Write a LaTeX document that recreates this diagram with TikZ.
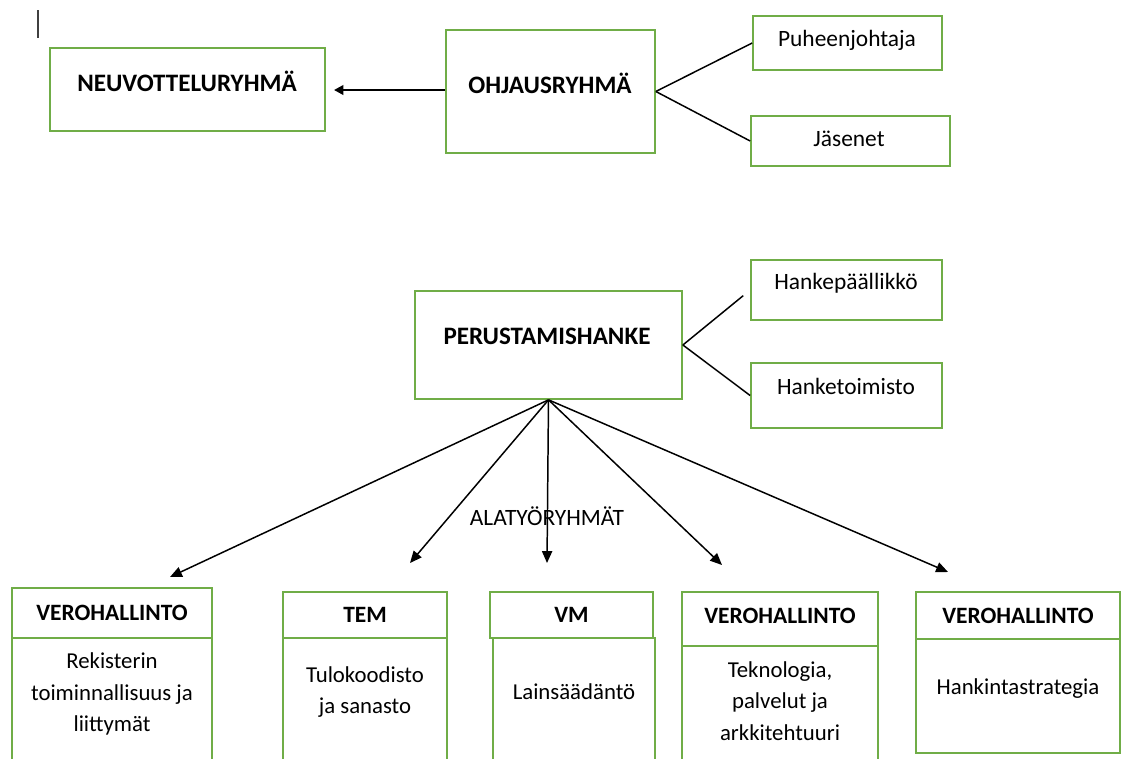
\documentclass[tikz,border=0pt]{standalone}
\usepackage{fontspec}
\setmainfont{Carlito}
\usetikzlibrary{arrows.meta}
\definecolor{boxgreen}{HTML}{70AD47}
\def\px{0.47pt}

\begin{document}
\begin{tikzpicture}[x=\px, y=-\px,
	every node/.style = {font=\fontsize{11}{14.8}\selectfont, inner sep=0pt, align=center},
	box/.style = {shape=rectangle, draw=boxgreen, line width=0.8pt},
	head/.style = {box, font=\fontsize{11}{14.8}\selectfont\bfseries},
	bold/.style = {font=\fontsize{11.8}{14.8}\selectfont\bfseries},
	body/.style = {font=\fontsize{10.7}{14.8}\selectfont},
	link/.style = {line width=0.7pt},
	arr/.style = {line width=0.7pt, -{Triangle[length=5.6pt, width=4.8pt]}},
	bigarr/.style = {line width=1.3pt, -{Triangle[length=4.4pt, width=4.4pt]}}]
	\useasboundingbox (0,0) rectangle (1122,758);
	\clip (0,0) rectangle (1122,758);
	\draw[line width=0.6pt, black!75] (38,10) -- (38,38);

	\node[box, minimum width=275*\px, minimum height=83*\px] (neuv) at (187.5,89.5) {};
	\node[bold] (neuvText) at (187,81) {NEUVOTTELURYHMÄ};
	\node[box, minimum width=209*\px, minimum height=123*\px] (ohj) at (550.5,91.5) {};
	\node[bold] (ohjText) at (550,83) {OHJAUSRYHMÄ};
	\node[box, minimum width=189*\px, minimum height=54*\px] (puh) at (847.5,43) {};
	\node (puhText) at (847,40) {Puheenjohtaja};
	\node[box, minimum width=199*\px, minimum height=50*\px] (jas) at (850.5,141) {};
	\node (jasText) at (849,139) {Jäsenet};

	\node[box, minimum width=267*\px, minimum height=108*\px] (per) at (548.5,345) {};
	\node[bold] (perText) at (547,336) {PERUSTAMISHANKE};
	\node[box, minimum width=191*\px, minimum height=60*\px] (hankep) at (846.5,290) {};
	\node (hankepText) at (846,283) {Hankepäällikkö};
	\node[box, minimum width=191*\px, minimum height=65*\px] (hanket) at (846.5,395.5) {};
	\node (hanketText) at (846,386) {Hanketoimisto};

	\draw[bigarr, shorten >=3.8pt] ([yshift=0.7pt]ohj.west) -- ([yshift=0.7pt]ohj.west -| neuv.east);
	\draw[link] (ohj.east) -- (puh.west);
	\draw[link] (ohj.east) -- (jas.west);
	\draw[link, shorten >=4.2pt] (per.east) -- (hankep.west);
	\draw[link] (per.east) -- (hanket.west);

	\node (alaText) at (547,516) {ALATYÖRYHMÄT};

	\node[box, minimum width=200*\px, minimum height=134*\px] (rekBody) at (112,705) {};
	\node[head, minimum width=200*\px, minimum height=50*\px] (rekHead) at (112,613) {VEROHALLINTO};
	\node[body] (rekText) at (112,694) {Rekisterin\\toiminnallisuus ja\\liittymät};
	\node[box, minimum width=164*\px, minimum height=134*\px] (temBody) at (365,705) {};
	\node[head, minimum width=164*\px, minimum height=46*\px] (temHead) at (365,615) {TEM};
	\node[body] (temText) at (365,692) {Tulokoodisto\\ja sanasto};
	\node[box, minimum width=162*\px, minimum height=134*\px] (vmBody) at (574,705) {};
	\node[head, minimum width=163*\px, minimum height=46*\px] (vmHead) at (571.5,615) {VM};
	\node[body] (vmText) at (574,692) {Lainsäädäntö};
	\node[box, minimum width=196*\px, minimum height=126*\px] (tekBody) at (780,709) {};
	\node[head, minimum width=196*\px, minimum height=54*\px, text depth=6*\px] (tekHead) at (780,619) {VEROHALLINTO};
	\node[body] (tekText) at (780,701) {Teknologia,\\palvelut ja\\arkkitehtuuri};
	\node[box, minimum width=204*\px, minimum height=114*\px] (hanBody) at (1018,696) {};
	\node[head, minimum width=204*\px, minimum height=47*\px] (hanHead) at (1018,615.5) {VEROHALLINTO};
	\node[body] (hanText) at (1018,689) {Hankintastrategia};

	\coordinate (t1) at (170,577);
	\coordinate (t2) at (410,563);
	\coordinate (t3) at (547,563);
	\coordinate (t4) at (722,565);
	\coordinate (t5) at (948,572);
	\foreach \t in {t1,t2,t3,t4,t5}
		\draw[arr] (per.south) -- (\t);
\end{tikzpicture}
\end{document}
